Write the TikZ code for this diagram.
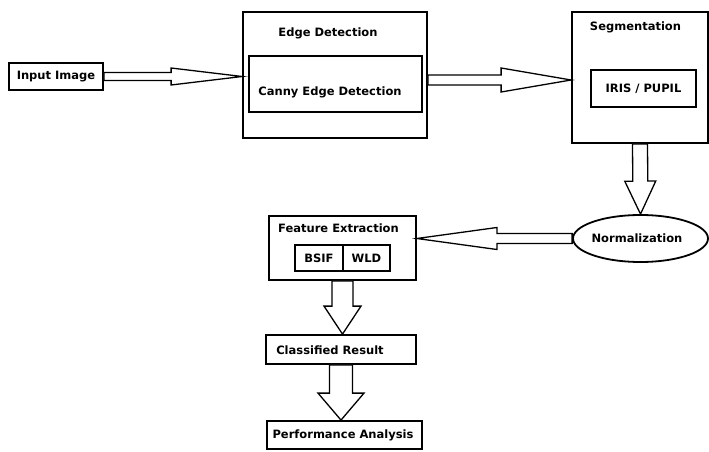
\documentclass[tikz,border=0pt]{standalone}
\usepackage{fontspec}
\setmainfont{DejaVu Sans}
\usetikzlibrary{calc,shapes.geometric}
\tikzset{
  box/.style={draw=black,line width=1.8pt,rectangle,inner sep=0pt},
  lbl/.style={inner sep=0pt,font=\bfseries\fontsize{11.5}{13}\selectfont},
  barrow/.style={draw=black,line width=1.3pt,fill=white,line join=miter},
}
\newcommand\blockarrow[5]{%
  \coordinate (ba-h) at ($(#2)!#5!(#1)$);
  \draw[barrow] ($(#1)!#3!90:(#2)$) -- ($(ba-h)!#3!90:(#2)$) -- ($(ba-h)!#4!90:(#2)$) -- (#2)
    -- ($(ba-h)!#4!-90:(#2)$) -- ($(ba-h)!#3!-90:(#2)$) -- ($(#1)!#3!-90:(#2)$) -- cycle;
}
\begin{document}
\begin{tikzpicture}[x=1pt,y=-1pt]
\useasboundingbox[fill=white] (0,0) rectangle (709,452);
% nodes
\node[box,minimum width=94pt,minimum height=27pt] (in) at (56,76.5) {};
\node[lbl] (inl) at (56,76.5) {Input Image};
\node[box,minimum width=184pt,minimum height=126pt] (ed) at (335,75) {};
\node[lbl] (edl) at (328,33) {Edge Detection};
\node[box,minimum width=173pt,minimum height=56pt] (ci) at (335.5,84) {};
\node[lbl] (cil) at (330,92) {Canny Edge Detection};
\node[box,minimum width=136pt,minimum height=131pt] (sg) at (640,77.5) {};
\node[lbl] (sgl) at (635.5,27) {Segmentation};
\node[box,minimum width=105pt,minimum height=37pt] (ip) at (643.5,88.5) {};
\node[lbl] (ipl) at (643.5,88.5) {IRIS / PUPIL};
\node[draw=black,line width=1.8pt,ellipse,minimum width=135pt,minimum height=47pt,inner sep=0pt] (no) at (640.5,238.5) {};
\node[lbl] (nol) at (637,238.5) {Normalization};
\node[box,minimum width=147pt,minimum height=64pt] (fe) at (342.5,248) {};
\node[lbl] (fel) at (338.5,228) {Feature Extraction};
\node[box,minimum width=48pt,minimum height=26pt] (bs) at (319,258) {};
\node[box,minimum width=47pt,minimum height=26pt] (wl) at (366.5,258) {};
\node[lbl] (bsl) at (bs) {BSIF};
\node[lbl] (wll) at (wl) {WLD};
\node[box,minimum width=150pt,minimum height=29pt] (cr) at (341,349.5) {};
\node[lbl] (crl) at (330,350) {Classified Result};
\node[box,minimum width=155pt,minimum height=28pt] (pa) at (344.5,435) {};
\node[lbl] (pal) at (343,435) {Performance Analysis};
% arrow end points
\coordinate (t1) at (ed.west |- in.east);
\coordinate (s2) at (ed.east |- 0,80);
\coordinate (t2) at (sg.west |- 0,80);
\coordinate (t4) at (fe.east |- no.west);
\coordinate (t5) at (fe.south |- cr.north);
\coordinate (t6) at (cr.south |- pa.north);
% block arrows
\blockarrow{in.east}{t1}{4pt}{8.5pt}{71pt}
\blockarrow{s2}{t2}{5pt}{12pt}{70pt}
\blockarrow{sg.south}{no.north}{7.5pt}{15.5pt}{33pt}
\blockarrow{no.west}{t4}{5pt}{11pt}{80pt}
\blockarrow{fe.south}{t5}{10.5pt}{18.5pt}{28pt}
\blockarrow{cr.south}{t6}{11.5pt}{23pt}{27pt}
\end{tikzpicture}
\end{document}
